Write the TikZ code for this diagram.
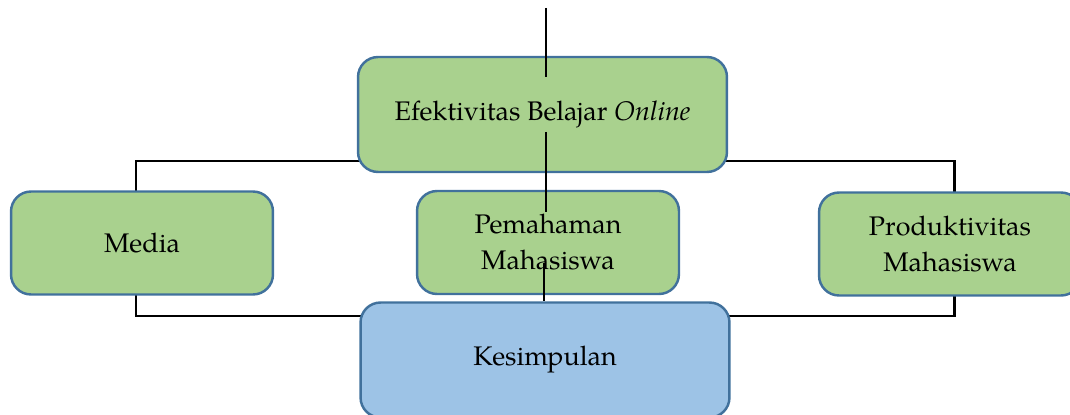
\documentclass[tikz,border=0pt]{standalone}
\usepackage{fontspec}
\setmainfont{TeX Gyre Pagella}
\usetikzlibrary{positioning}

\begin{document}
\begin{tikzpicture}[
        x=0.02cm, y=-0.02cm,
        box/.style={
            rectangle, draw=blue!45!gray, fill=green!35!lime!40!gray!60, line width=1.4pt, rounded corners=0.4cm,
            minimum width=5.24cm, minimum height=2.06cm, align=center, font=\fontsize{15.3}{20.5}\selectfont
        },
        bigbox/.style={box, minimum width=7.38cm, minimum height=2.3cm},
        link/.style={line width=1.7pt, black},
        axis/.style={line width=0.75pt, black}
    ]
        \definecolor{boxgreen}{HTML}{A9D18E}
        \definecolor{boxblue}{HTML}{9DC3E6}
        \definecolor{boxline}{HTML}{41719C}
        \useasboundingbox (0,0) rectangle (1070,415);

        % Brackets behind the boxes
        \coordinate (tl) at (136,161);
        \coordinate (tr) at (954,161);
        \coordinate (bl) at (136,316);
        \coordinate (br) at (954,316);
        \draw[link] (136,243) -- (tl) -- (tr) -- (954,244);
        \draw[link] (136,243) -- (bl) -- (br) -- (954,244);

        % Boxes
        \node[bigbox, draw=boxline, fill=boxgreen] (efek) at (542.5,114.5) {Efektivitas Belajar \textit{Online}};
        \node[box, draw=boxline, fill=boxgreen] (media) at (142,243) {Media};
        \node[box, draw=boxline, fill=boxgreen] (paham) at (548,242.5) {Pemahaman\\Mahasiswa};
        \node[box, draw=boxline, fill=boxgreen] (prod) at (950,244) {Produktivitas\\Mahasiswa};
        \node[bigbox, draw=boxline, fill=boxblue] (kesim) at (545,360) {Kesimpulan};

        % Centre line
        \coordinate (top) at (546,8);
        \coordinate (a1) at (546,77);
        \coordinate (a2) at (546,132);
        \coordinate (a3) at (546,212);
        \coordinate (a4) at (544,263);
        \draw[axis] (top) -- (a1);
        \draw[axis] (a2) -- (a3);
        \draw[axis] (a4) -- (a4 |- kesim.north);

    \end{tikzpicture}
\end{document}
